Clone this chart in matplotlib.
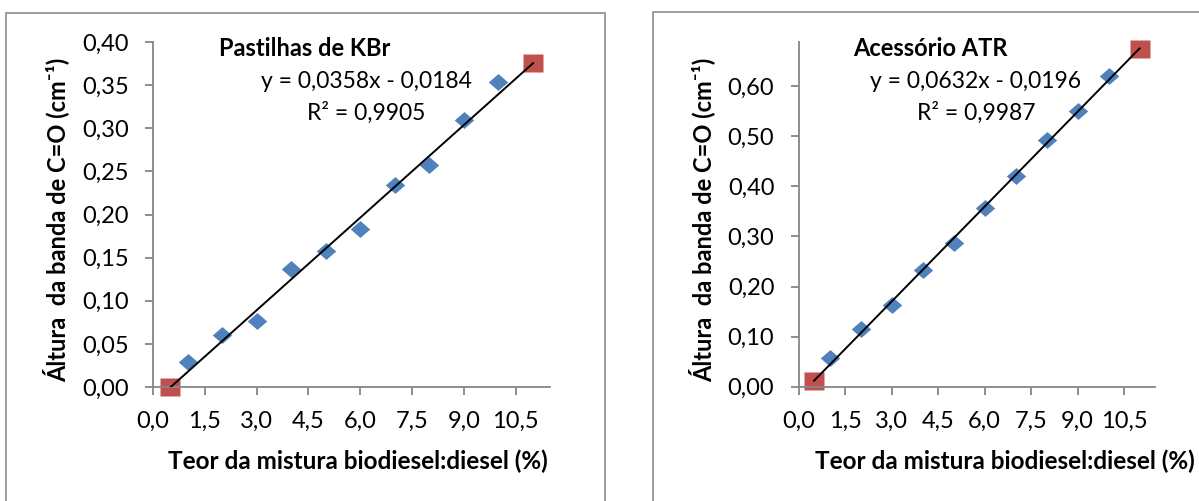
import matplotlib
matplotlib.use("Agg")
import matplotlib.pyplot as plt
from matplotlib.patches import Rectangle
from matplotlib.ticker import FuncFormatter, MultipleLocator

plt.rcParams['font.family'] = ['Lato', 'DejaVu Sans']

# data
x_pts = [1, 2, 3, 4, 5, 6, 7, 8, 9, 10]
kbr_y = [0.0286, 0.060, 0.0765, 0.137, 0.158, 0.183, 0.234, 0.257, 0.3096, 0.3536]
atr_y = [0.0567, 0.1146, 0.1625, 0.233, 0.286, 0.356, 0.4206, 0.4924, 0.5503, 0.621]
end_x = [0.5, 11.0]
kbr_end_y = [0.0, 0.376]
atr_end_y = [0.0114, 0.675]
# trendline coefficients (slope, intercept)
kbr_fit = (0.0358, -0.0184)
atr_fit = (0.0632, -0.0196)

titles = ["Pastilhas de KBr", "Acessório ATR"]
eq_texts = ["y = 0,0358x - 0,0184", "y = 0,0632x - 0,0196"]
r2_texts = ["R² = 0,9905", "R² = 0,9987"]
xlabel = "Teor da mistura biodiesel:diesel (%)"
ylabel = "Áltura  da banda de C=O (cm⁻¹)"

# markers slightly wider than tall, as in the picture
diamond = [(-1, 0), (0, 0.87), (1, 0), (0, -0.87), (-1, 0)]
square = [(-1, -0.87), (1, -0.87), (1, 0.87), (-1, 0.87), (-1, -0.87)]

W, H = 1199, 501
fig = plt.figure(figsize=(W / 100, H / 100), dpi=100)

# chart area borders
for bx, bw, by in [(6, 599, 13), (652.5, 600, 12)]:
    fig.patches.append(Rectangle((bx / W, -0.1), bw / W, 1.1 - by / H, transform=fig.transFigure,
                                 fill=False, edgecolor='#8c8c8c', lw=1.2))

axes_cfg = [
    dict(rect=[153 / W, 1 - 387 / H, 397.3 / W, 345 / H], y=kbr_y, ey=kbr_end_y, fit=kbr_fit,
         ylim=0.40, ystep=0.05, title_x=305, eq_x=366, ylab_x=56, xlab_x=358),
    dict(rect=[798.6 / W, 1 - 386.7 / H, 356.5 / W, 345 / H], y=atr_y, ey=atr_end_y, fit=atr_fit,
         ylim=0.689, ystep=0.10, title_x=930, eq_x=976, ylab_x=702, xlab_x=1005),
]

for i, c in enumerate(axes_cfg):
    ax = fig.add_axes(c['rect'])
    a, b = c['fit']
    ax.plot(end_x, [a * v + b for v in end_x], color='black', lw=1.4, zorder=3)
    ax.plot(x_pts, c['y'], marker=diamond, ls='none', color='#4F81BD', ms=14, mec='none', zorder=2)
    ax.plot(end_x, c['ey'], marker=square, ls='none', color='#C0504D', ms=15, mec='none', zorder=2,
            clip_on=False)
    ax.set_xlim(0, 11.5)
    ax.set_ylim(0, c['ylim'])
    ax.xaxis.set_major_locator(MultipleLocator(1.5))
    ax.yaxis.set_major_locator(MultipleLocator(c['ystep']))
    ax.xaxis.set_major_formatter(FuncFormatter(lambda v, p: f"{v:.1f}".replace('.', ',')))
    ax.yaxis.set_major_formatter(FuncFormatter(lambda v, p: f"{v:.2f}".replace('.', ',')))
    for s in ['top', 'right']:
        ax.spines[s].set_visible(False)
    for s in ['left', 'bottom']:
        ax.spines[s].set_color('#868686')
        ax.spines[s].set_linewidth(1.3)
    ax.tick_params(direction='out', length=5.5, width=1.3, color='#868686', labelsize=17,
                   labelcolor='black', pad=12)

    fig.text(c['title_x'] / W, 1 - 49 / H, titles[i], ha='center', va='center',
             fontsize=17, fontweight='bold')
    fig.text(c['eq_x'] / W, 1 - 81 / H, eq_texts[i], ha='center', va='center', fontsize=16.5)
    fig.text(c['eq_x'] / W, 1 - 113 / H, r2_texts[i], ha='center', va='center', fontsize=16.5)
    fig.text(c['ylab_x'] / W, 1 - 220 / H, ylabel, ha='center', va='center', rotation=90,
             fontsize=17, fontweight='bold')
    fig.text(c['xlab_x'] / W, 1 - 461 / H, xlabel, ha='center', va='center',
             fontsize=17.5, fontweight='bold')

fig.savefig('out.png', dpi=100, facecolor='white')
